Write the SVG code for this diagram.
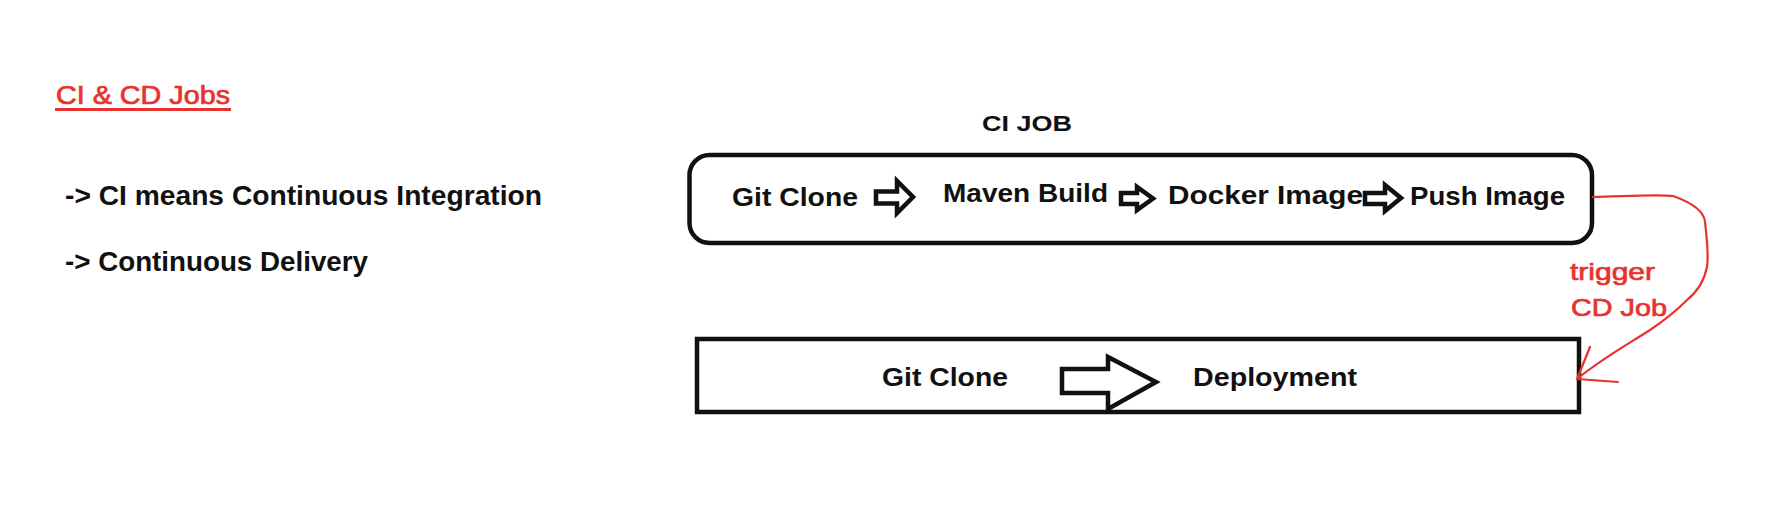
<svg xmlns="http://www.w3.org/2000/svg" width="1765" height="532" viewBox="0 0 1765 532">
<style>
.t{font-family:"Liberation Sans",Arial,sans-serif;font-weight:bold;fill:#111}
.r{font-family:"Liberation Sans",Arial,sans-serif;fill:#e8322e;stroke:#e8322e;stroke-width:0.7}
.box{fill:#fff;stroke:#111;stroke-width:4.5}
.blk{fill:#fff;stroke:#111;stroke-width:4.5;stroke-linejoin:miter}
.red{fill:none;stroke:#e8322e;stroke-width:2.2;stroke-linecap:round;stroke-linejoin:round}
</style>
<rect width="1765" height="532" fill="#fff"/>
<g id="title">
<text class="r" x="56" y="104" font-size="25" textLength="174" lengthAdjust="spacingAndGlyphs">CI &amp; CD Jobs</text>
<line x1="55" y1="109.5" x2="231" y2="109.5" stroke="#e8322e" stroke-width="3"/>
</g>
<g id="bullet-ci">
<text class="t" x="65" y="205" font-size="28" textLength="477" lengthAdjust="spacingAndGlyphs">-&gt; CI means Continuous Integration</text>
</g>
<g id="bullet-cd">
<text class="t" x="65" y="271" font-size="28" textLength="303" lengthAdjust="spacingAndGlyphs">-&gt; Continuous Delivery</text>
</g>
<g id="ci-job">
<text class="t" x="982" y="131" font-size="22" textLength="90" lengthAdjust="spacingAndGlyphs">CI JOB</text>
<rect class="box" x="689.5" y="155" width="902.5" height="88" rx="20" ry="20"/>
</g>
<g id="ci-git-clone"><text class="t" x="732" y="206" font-size="26" textLength="126" lengthAdjust="spacingAndGlyphs">Git Clone</text></g>
<g id="ci-maven-build"><text class="t" x="943" y="202" font-size="26" textLength="165" lengthAdjust="spacingAndGlyphs">Maven Build</text></g>
<g id="ci-docker-image"><text class="t" x="1168" y="204" font-size="26" textLength="195" lengthAdjust="spacingAndGlyphs">Docker Image</text></g>
<g id="ci-push-image"><text class="t" x="1410" y="205" font-size="26" textLength="155" lengthAdjust="spacingAndGlyphs">Push Image</text></g>
<g id="cd-job">
<rect class="box" x="697" y="339" width="882" height="73"/>
</g>
<g id="cd-git-clone"><text class="t" x="882" y="386" font-size="26" textLength="126" lengthAdjust="spacingAndGlyphs">Git Clone</text></g>
<g id="cd-deployment"><text class="t" x="1193" y="386" font-size="26" textLength="164" lengthAdjust="spacingAndGlyphs">Deployment</text></g>
<g id="trigger-label">
<text class="r" x="1570" y="280" font-size="24" textLength="85" lengthAdjust="spacingAndGlyphs">trigger</text>
<text class="r" x="1571" y="316" font-size="24" textLength="96" lengthAdjust="spacingAndGlyphs">CD Job</text>
</g>
<g id="connectors">
<path class="blk" d="M876,191.5 H897 V181 L913,197 L897,213 V203.5 H876 Z"/>
<path class="blk" d="M1121,193 H1137 V187 L1153,198.5 L1137,210 V204 H1121 Z"/>
<path class="blk" d="M1365,193 H1385 V185 L1401,198 L1385,211 V204 H1365 Z"/>
<path class="blk" d="M1062,369 H1108 V357 L1156,382 L1108,409 V393 H1062 Z"/>
<path class="red" d="M1593,197 C1630,196 1660,194 1673,196 C1690,202 1704,210 1705,222 C1707,240 1709,255 1707,267 C1704,282 1697,292 1687,300 C1675,312 1662,322 1650,330 C1625,346 1600,360 1577,379"/>
<path class="red" d="M1590,347 L1577,379 L1618,382"/>
</g>
</svg>
